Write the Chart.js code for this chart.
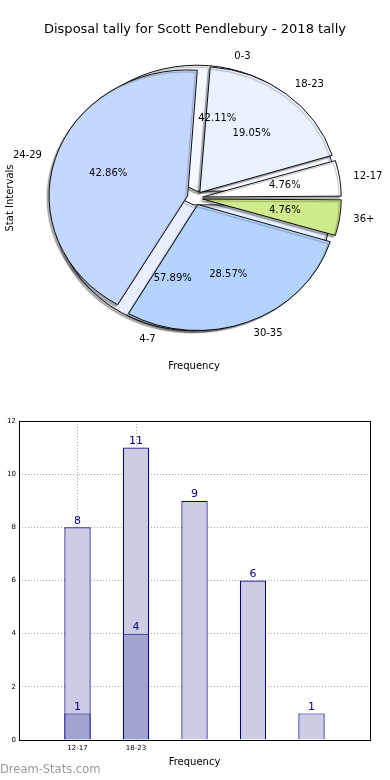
<!DOCTYPE html>
<html lang="en">
<head>
  <meta charset="UTF-8">
  <title>Disposal tally - Scott Pendlebury 2018</title>
  <script src="https://cdn.jsdelivr.net/npm/chart.js"></script>
  <style>
    body { margin: 0; background: #fff; width: 390px; height: 780px; position: relative; overflow: hidden; }
    canvas { position: absolute; left: 0; }
    #pieBack, #pieFront { top: 0; }
    #barChart { top: 400px; }
  </style>
</head>
<body>
  <canvas id="pieBack" width="390" height="400"></canvas>
  <canvas id="pieFront" width="390" height="400"></canvas>
  <canvas id="barChart" width="390" height="380"></canvas>

<script>
const titleText = 'Disposal tally for Scott Pendlebury - 2018 tally';

// back pie (sits behind, only seen through the gaps)
const backLabels = ['0-3', '4-7'];
const backCounts = [8, 11];
const backColors = ['#f6f8ff', '#e8efff'];

// front pie
const frontLabels = ['12-17', '18-23', '24-29', '30-35', '36+'];
const frontCounts = [1, 4, 9, 6, 1];
const frontColors = ['#ffffff', '#eaf1ff', '#c4d8ff', '#b4d4ff', '#cfeb8b'];

// bar chart
const barTotals = [8, 11, 9, 6, 1];
const barParts = [1, 4];
const xTickLabels = ['12-17', '18-23'];

const FONT = '"DejaVu Sans", sans-serif';
const X_STRETCH = 1.1;   // pie axes are not square, so the pie is an ellipse
const EXPLODE = 7;
const RADIUS = 126;

const pieCharts = [];   // all pies; their texts get drawn on the top canvas

// Chart.js grows small exploded arcs a bit; matplotlib doesn't, so undo that
const sameRadius = {
  id: 'sameRadius',
  afterDatasetsUpdate(chart) {
    chart.getDatasetMeta(0).data.forEach(arc => {
      const fix = 1 - Math.sin(Math.min(Math.PI, arc.circumference));
      arc.outerRadius = RADIUS - EXPLODE * fix;
    });
  }
};

// draws the pie squashed to an ellipse, with a drop shadow
const ellipse = {
  id: 'ellipse',
  beforeDatasetsDraw(chart) {
    const ctx = chart.ctx;
    const a = chart.getDatasetMeta(0).data[0];
    ctx.save();
    ctx.translate(a.x, a.y);
    ctx.scale(X_STRETCH, 1);
    ctx.translate(-a.x, -a.y);
    ctx.shadowColor = 'rgba(0,0,0,0.3)';
    ctx.shadowBlur = 1;
    ctx.shadowOffsetX = -2;
    ctx.shadowOffsetY = 2;
  },
  afterDatasetsDraw(chart) { chart.ctx.restore(); }
};

// outer labels + percentages, matplotlib style (texts of both pies sit on top)
const pieText = {
  id: 'pieText',
  afterDraw(chart) {
    const ctx = chart.ctx;
    ctx.save();
    ctx.fillStyle = '#000';
    ctx.font = '10px ' + FONT;
    ctx.textBaseline = 'middle';
    pieCharts.concat([chart]).forEach(c => {
      const ds = c.data.datasets[0];
      const total = ds.data.reduce((s, v) => s + v, 0);
      c.getDatasetMeta(0).data.forEach((arc, i) => {
        const mid = (arc.startAngle + arc.endAngle) / 2;
        const ux = Math.cos(mid), uy = Math.sin(mid);
        const lr = EXPLODE + 1.1 * RADIUS;
        const pr = EXPLODE + 0.6 * RADIUS;
        ctx.textAlign = ux > 0 ? 'left' : 'right';
        ctx.fillText(c.data.labels[i], arc.x + X_STRETCH * lr * ux, arc.y + lr * uy);
        ctx.textAlign = 'center';
        ctx.fillText((ds.data[i] / total * 100).toFixed(2) + '%', arc.x + X_STRETCH * pr * ux, arc.y + pr * uy);
      });
    });
    ctx.textAlign = 'center';
    ctx.font = '13px ' + FONT;
    ctx.fillText(titleText, 195, 30);
    ctx.font = '10px ' + FONT;
    ctx.fillText('Frequency', 194, 366);
    ctx.translate(10, 198);
    ctx.rotate(-Math.PI / 2);
    ctx.fillText('Stat Intervals', 0, 0);
    ctx.restore();
  }
};

function pieConfig(labels, counts, colors, onTop) {
  // matplotlib runs counter-clockwise from 3 o'clock, Chart.js clockwise
  return {
    type: 'pie',
    data: {
      labels: labels.slice().reverse(),
      datasets: [{
        data: counts.slice().reverse(),
        backgroundColor: colors.slice().reverse(),
        borderColor: '#000',
        borderWidth: 0.9,
        offset: EXPLODE * 4
      }]
    },
    options: {
      responsive: false,
      animation: false,
      rotation: 90,
      radius: RADIUS,
      layout: { padding: { bottom: 4 } },
      plugins: { legend: { display: false }, tooltip: { enabled: false } }
    },
    plugins: onTop ? [sameRadius, ellipse, pieText] : [sameRadius, ellipse]
  };
}

pieCharts.push(new Chart(document.getElementById('pieBack'), pieConfig(backLabels, backCounts, backColors, false)));
new Chart(document.getElementById('pieFront'), pieConfig(frontLabels, frontCounts, frontColors, true));

// frame, bar value labels and watermark
const barExtras = {
  id: 'barExtras',
  afterDatasetsDraw(chart) {
    const ctx = chart.ctx;
    const ca = chart.chartArea;
    ctx.save();
    ctx.strokeStyle = '#000';
    ctx.lineWidth = 1;
    ctx.strokeRect(ca.left + 0.5, ca.top + 0.5, ca.right - ca.left, ca.bottom - ca.top);
    ctx.fillStyle = '#000080';
    ctx.font = '11px ' + FONT;
    ctx.textAlign = 'center';
    ctx.textBaseline = 'bottom';
    chart.data.datasets.forEach((ds, di) => {
      chart.getDatasetMeta(di).data.forEach((bar, i) => {
        ctx.fillText(String(ds.data[i].y), bar.x, bar.y - 1);
      });
    });
    ctx.font = '11.5px ' + FONT;
    ctx.fillStyle = '#999';
    ctx.textAlign = 'left';
    ctx.textBaseline = 'middle';
    ctx.fillText('Dream-Stats.com', 0, 370);
    ctx.restore();
  }
};

new Chart(document.getElementById('barChart'), {
  type: 'bar',
  data: {
    datasets: [{
      data: barParts.map((v, i) => ({ x: i, y: v })),
      backgroundColor: '#a3a3d1',
      borderColor: '#000080',
      borderWidth: 1.2,
      order: 1
    }, {
      data: barTotals.map((v, i) => ({ x: i, y: v })),
      backgroundColor: '#ccccE5',
      borderColor: '#000080',
      borderWidth: 1.2,
      order: 2
    }]
  },
  options: {
    responsive: false,
    animation: false,
    grouped: false,
    barPercentage: 0.45,
    categoryPercentage: 1,
    layout: { padding: { top: 21, right: 20, left: 0, bottom: 12 } },
    plugins: { legend: { display: false }, tooltip: { enabled: false } },
    scales: {
      x: {
        type: 'linear',
        min: -1,
        max: 5,
        offset: false,
        afterBuildTicks: s => { s.ticks = xTickLabels.map((_, i) => ({ value: i })); },
        afterFit: s => { s.height = 28; },
        ticks: {
          callback: v => xTickLabels[v] ?? '',
          font: { family: FONT, size: 7 },
          color: '#000',
          padding: 4,
          maxRotation: 0
        },
        grid: { color: '#a8a8a8', drawTicks: false, offset: false },
        border: { display: false, dash: [1, 2] },
        title: { display: true, text: 'Frequency', font: { family: FONT, size: 10 }, color: '#000', padding: { top: 2, bottom: 0 } }
      },
      y: {
        min: 0,
        max: 12,
        afterFit: s => { s.width = 19; },
        ticks: { stepSize: 2, font: { family: FONT, size: 7 }, color: '#000', padding: 3 },
        grid: { color: '#a8a8a8', drawTicks: false },
        border: { display: false, dash: [1, 2] }
      }
    }
  },
  plugins: [barExtras]
});
</script>
</body>
</html>
